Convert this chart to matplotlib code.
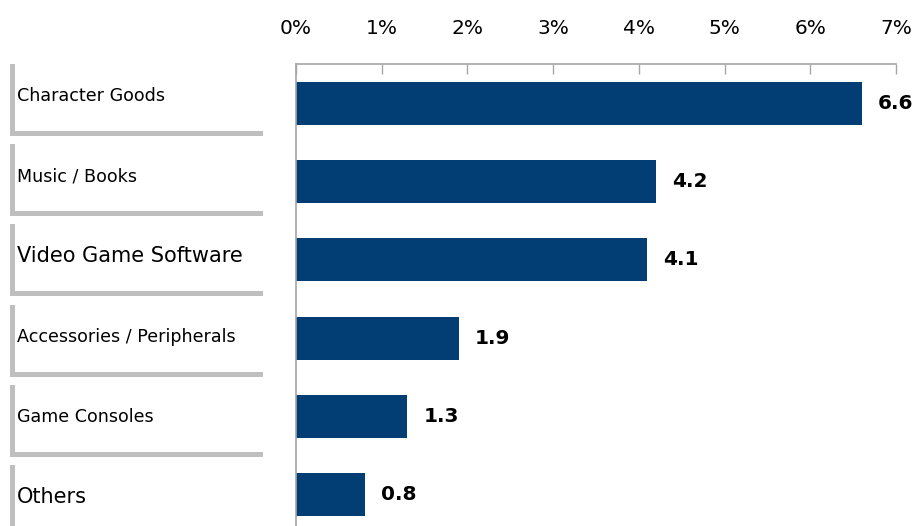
import matplotlib
matplotlib.use("Agg")
import matplotlib.pyplot as plt
from matplotlib.patches import Rectangle

categories = ["Character Goods", "Music / Books", "Video Game Software",
              "Accessories / Peripherals", "Game Consoles", "Others"]
values = [6.6, 4.2, 4.1, 1.9, 1.3, 0.8]
label_sizes = [12.6, 12.6, 15, 12.6, 12.6, 15]
tick_values = [0, 1, 2, 3, 4, 5, 6, 7]
tick_labels = ["0%", "1%", "2%", "3%", "4%", "5%", "6%", "7%"]

W, H = 916, 526
fig = plt.figure(figsize=(W / 100, H / 100), dpi=100)
ax = fig.add_axes([296 / W, (H - 534) / H, 600 / W, 470 / H])

bar_color = "#023e73"
grey = "#bfbfbf"
ypos = list(range(len(categories)))
ax.barh(ypos, values, height=0.55, color=bar_color)
ax.set_ylim(len(categories) - 0.5, -0.5)
ax.set_xlim(0, 7)

for y, v in zip(ypos, values):
    ax.annotate(f"{v:.1f}", (v, y), xytext=(16, 0), textcoords="offset pixels",
                va="center", ha="left", fontsize=14.5, fontweight="bold",
                color="black")

ax.xaxis.tick_top()
ax.set_xticks(tick_values)
ax.set_xticklabels(tick_labels, fontsize=14.5)
ax.tick_params(axis="x", direction="in", length=7, width=1, color="#a6a6a6", pad=19)
ax.set_yticks([])
for s in ["right", "bottom"]:
    ax.spines[s].set_visible(False)
for s in ["left", "top"]:
    ax.spines[s].set_color("#a6a6a6")
    ax.spines[s].set_linewidth(1.2)

# category label boxes on the left: grey left and bottom borders (pixel layout)
box_left, box_right = 10, 263
box_top0, box_step, box_h, border = 64, 80.2, 72, 5
for i, (name, fs) in enumerate(zip(categories, label_sizes)):
    top = box_top0 + i * box_step
    bottom = top + box_h
    fig.patches.append(Rectangle((box_left / W, 1 - bottom / H), border / W,
                                 box_h / H, transform=fig.transFigure,
                                 color=grey, lw=0))
    fig.patches.append(Rectangle((box_left / W, 1 - bottom / H),
                                 (box_right - box_left) / W, border / H,
                                 transform=fig.transFigure, color=grey, lw=0))
    fig.text(17 / W, 1 - (top + 32) / H, name, fontsize=fs,
             va="center", ha="left", color="black")

fig.savefig("out.png", dpi=100)
